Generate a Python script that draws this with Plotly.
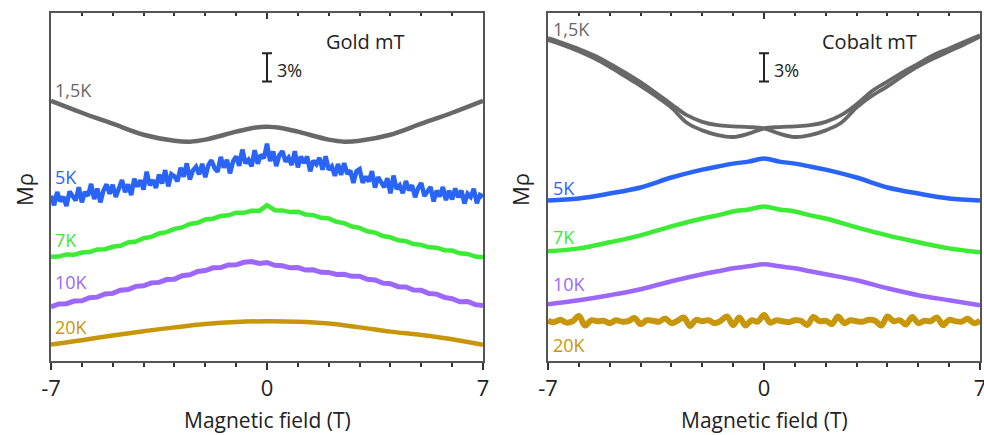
import plotly.graph_objects as go

# ---------------- data (resistance change in % units, offset per curve) ----------------
FIELD_FINE = [round(-7 + 0.1 * i, 2) for i in range(141)]
FIELD_Q = [round(-7 + 0.25 * i, 2) for i in range(57)]
FIELD_H = [round(-7 + 0.5 * i, 2) for i in range(29)]
FIELD_INT = [-7, -6, -5, -4, -3, -2, -1, 0, 1, 2, 3, 4, 5, 6, 7]
FIELD_GOLD_15 = [-7, -6, -5, -4, -3, -2.5, -2, -1, -0.5, 0, 0.5, 1, 2, 2.5, 3, 4, 5, 6, 7]
FIELD_CO = [-7, -6, -5, -4, -3, -2, -1.5, -1, -0.5, 0, 0.5, 1, 1.5, 2, 3, 4, 5, 6, 7]
FIELD_CO_20 = [round(-7 + 0.2 * i, 2) for i in range(71)]

gold_15K = [27.47, 26.21, 25.05, 23.89, 23.26, 23.16, 23.37, 24.21, 24.58, 24.74,
            24.58, 24.21, 23.37, 23.16, 23.26, 23.89, 25.05, 26.21, 27.47]

gold_5K = [17.45, 16.45, 17.85, 16.85, 17.35, 16.35, 17.9, 17.35, 16.95, 18.35,
           16.75, 17.85, 17.45, 18.7, 17.1, 18.2, 16.75, 18.0, 18.65, 17.65,
           18.6, 17.32, 18.14, 19.11, 17.83, 18.65, 17.52, 19.24, 18.41, 19.08,
           18.1, 19.98, 18.56, 19.09, 18.27, 19.7, 18.73, 20.16, 18.44, 19.72,
           19.5, 18.98, 20.41, 19.44, 20.87, 19.15, 20.13, 20.51, 19.69, 20.82,
           19.4, 20.67, 21.19, 20.36, 19.98, 21.55, 20.42, 21.24, 19.81, 21.08,
           21.6, 20.61, 22.32, 20.88, 21.24, 20.55, 22.26, 20.82, 21.78, 21.39,
           22.95, 21.11, 22.12, 20.58, 21.74, 22.15, 21.06, 21.47, 20.68, 22.14,
           20.45, 21.58, 20.91, 21.59, 20.02, 21.15, 20.78, 21.46, 20.19, 21.62,
           20.2, 20.55, 19.55, 20.8, 19.65, 20.9, 19.75, 20.1, 18.8, 20.05,
           20.25, 18.81, 19.47, 18.93, 20.04, 18.3, 19.41, 18.87, 18.33, 19.29,
           17.7, 19.58, 18.16, 18.54, 17.72, 19.0, 18.03, 18.56, 17.29, 18.27,
           18.8, 17.41, 17.82, 18.38, 16.84, 18.0, 17.36, 18.37, 16.98, 17.99,
           17.05, 18.22, 17.29, 18.01, 16.63, 17.65, 17.32, 18.19, 16.66, 17.53,
           17.35]

gold_7K = [11.0, 11.02, 11.25, 11.22, 11.45, 11.5, 11.78, 11.8, 12.06, 12.16,
           12.52, 12.62, 12.96, 13.1, 13.46, 13.6, 13.95, 14.1, 14.47, 14.6,
           14.95, 15.02, 15.32, 15.38, 15.66, 15.64, 15.86, 15.85, 16.45, 15.92,
           15.9, 15.72, 15.76, 15.47, 15.4, 15.12, 15.06, 14.7, 14.56, 14.2,
           14.06, 13.7, 13.56, 13.2, 13.06, 12.75, 12.66, 12.35, 12.26, 12.0,
           11.96, 11.7, 11.66, 11.37, 11.3, 11.03, 10.95]

gold_10K = [5.72, 6.02, 6.05, 6.33, 6.36, 6.68, 6.74, 7.08, 7.14, 7.47,
            7.55, 7.88, 7.94, 8.25, 8.3, 8.6, 8.64, 9.0, 9.1, 9.45,
            9.55, 9.84, 9.86, 10.14, 10.15, 10.42, 10.5, 10.3, 10.4, 10.1,
            10.05, 9.84, 9.86, 9.6, 9.62, 9.36, 9.35, 9.14, 9.16, 8.94,
            8.95, 8.63, 8.56, 8.22, 8.16, 7.85, 7.82, 7.5, 7.46, 7.12,
            7.06, 6.72, 6.58, 6.26, 6.28, 5.95, 5.85]

gold_20K = [1.75, 2.2, 2.7, 3.15, 3.55, 3.9, 4.12, 4.2, 4.15, 3.95, 3.55, 3.1, 2.75, 2.3, 1.7]

cobalt_15K_a = [33.9, 33.35, 32.7, 31.95, 31.05, 30.05, 29.05, 27.95, 26.75,
                25.15, 24.35, 23.85, 23.65, 24.0, 24.55,
                24.7, 24.78, 24.9, 25.25, 25.95, 27.1,
                28.5, 29.5, 30.5, 31.4, 32.3, 33.0, 33.7, 34.4]
cobalt_15K_b = [34.1, 33.55, 32.95, 32.25, 31.4, 30.45, 29.45, 28.3, 27.1,
                25.95, 25.25, 24.9, 24.78, 24.7, 24.55,
                24.0, 23.65, 23.85, 24.35, 25.15, 26.75,
                28.0, 29.0, 30.1, 31.1, 31.95, 32.7, 33.45, 34.25]
cobalt_5K = [16.95, 17.16, 17.68, 18.32, 19.37, 20.21, 20.53, 20.84, 21.05, 21.37,
             21.05, 20.84, 20.53, 20.21, 19.37, 18.32, 17.68, 17.16, 16.95]
cobalt_7K = [11.58, 11.89, 12.53, 13.26, 14.21, 15.05, 15.37, 15.79, 16.0, 16.32,
             16.0, 15.79, 15.37, 15.05, 14.11, 13.26, 12.53, 11.89, 11.47]
cobalt_10K = [6.0, 6.42, 6.95, 7.58, 8.42, 9.16, 9.47, 9.79, 10.0, 10.21,
              10.0, 9.79, 9.47, 9.16, 8.53, 7.68, 6.95, 6.42, 5.89]
cobalt_20K = [4.25, 4.1, 4.35, 4.05, 4.2, 4.75, 3.75, 4.3, 4.2, 4.25,
              4.0, 4.3, 4.15, 4.2, 4.55, 3.9, 4.3, 4.25, 4.15, 4.5,
              4.0, 4.25, 4.6, 3.7, 4.35, 4.2, 4.3, 4.0, 4.25, 4.7,
              3.8, 4.6, 3.75, 4.3, 4.15, 4.85, 4.05, 4.3, 4.2, 4.1,
              4.3, 4.25, 3.8, 4.65, 4.2, 4.25, 3.9, 4.7, 4.0, 4.3,
              4.2, 4.15, 4.35, 4.25, 3.75, 4.7, 4.2, 4.3, 3.85, 4.65,
              4.0, 4.25, 4.2, 4.6, 3.8, 4.35, 4.2, 4.15, 4.45, 4.0,
              4.25]

SCALE_PCT = 3.0
SCALE_CENTER = 31.0
TICK_VALS = [-7, 0, 7]
TICK_TEXT = ["-7", "0", "7"]
Y_RANGE = [0, 36.74]

# ---------------- styling ----------------
GRAY = "#686868"
BLUE = "#2A64F6"
GREEN = "#3BEB34"
PURPLE = "#9C67FB"
BROWN = "#C8960A"
INK = "#222222"
FONT = "Open Sans"

fig = go.Figure()


def line(x, y, color, ax, width=4.5, shape="linear", smoothing=1.0):
    xa, ya = ("x", "y") if ax == 1 else ("x2", "y2")
    ln = dict(color=color, width=width, shape=shape)
    if shape == "spline":
        ln["smoothing"] = smoothing
    fig.add_trace(go.Scatter(x=x, y=y, mode="lines", xaxis=xa, yaxis=ya, line=ln,
                             showlegend=False, hoverinfo="skip"))


# left panel (gold)
line(FIELD_GOLD_15, gold_15K, GRAY, 1, 4.5, "spline")
line(FIELD_FINE, gold_5K, BLUE, 1, 4.5)
line(FIELD_Q, gold_7K, GREEN, 1, 4.5)
line(FIELD_Q, gold_10K, PURPLE, 1, 5)
line(FIELD_INT, gold_20K, BROWN, 1, 4.5, "spline")

# right panel (cobalt)
line(FIELD_H, cobalt_15K_a, GRAY, 2, 3.8, "spline")
line(FIELD_H, cobalt_15K_b, GRAY, 2, 3.8, "spline")
line(FIELD_CO, cobalt_5K, BLUE, 2, 4.5, "spline")
line(FIELD_CO, cobalt_7K, GREEN, 2, 4.5, "spline")
line(FIELD_CO, cobalt_10K, PURPLE, 2, 4.5, "spline")
line(FIELD_CO_20, cobalt_20K, BROWN, 2, 6, "spline")

# 3% scale bars
for xa, ya in (("x", "y"), ("x2", "y2")):
    fig.add_trace(go.Scatter(x=[0], y=[SCALE_CENTER], mode="markers", xaxis=xa, yaxis=ya,
                             marker=dict(size=1, color="rgba(0,0,0,0)"),
                             error_y=dict(type="constant", value=SCALE_PCT / 2, width=5,
                                          thickness=2, color=INK),
                             showlegend=False, hoverinfo="skip"))

# dummy traces for the top (inward) tick axes
for xa, ya in (("x3", "y"), ("x4", "y2")):
    fig.add_trace(go.Scatter(x=[0], y=[None], xaxis=xa, yaxis=ya, mode="lines",
                             showlegend=False, hoverinfo="skip"))

W, H = 984, 435
XD1 = [51 / W, 483 / W]
XD2 = [548 / W, 980 / W]
YD = [(H - 361) / H, (H - 13) / H]

xbase = dict(range=[-7, 7], tickmode="array", tickvals=TICK_VALS, ticktext=TICK_TEXT,
             ticks="outside", ticklen=7, tickwidth=1.5, tickcolor="#333",
             minor=dict(tickmode="linear", tick0=0, dtick=1, ticks="outside",
                        ticklen=4, tickwidth=1.5, tickcolor="#333"),
             showline=True, linecolor="#555", linewidth=1.5, mirror=True,
             showgrid=False, zeroline=False, automargin=False,
             ticklabeloverflow="allow",
             tickfont=dict(family=FONT, size=22, color=INK))
xtop = dict(range=[-7, 7], tickmode="array", tickvals=TICK_VALS, side="top",
            ticks="inside", ticklen=6, tickwidth=1.5, tickcolor="#333",
            minor=dict(tickmode="linear", tick0=0, dtick=1, ticks="inside",
                       ticklen=3, tickwidth=1.5, tickcolor="#333"),
            showticklabels=False, showline=False, showgrid=False, zeroline=False,
            automargin=False)
ybase = dict(range=Y_RANGE, domain=YD, showticklabels=False, ticks="",
             showline=True, linecolor="#555", linewidth=1.5, mirror=True,
             showgrid=False, zeroline=False, automargin=False)

fig.update_layout(
    width=W, height=H, margin=dict(l=0, r=0, t=0, b=0, autoexpand=False),
    paper_bgcolor="white", plot_bgcolor="white",
    font=dict(family=FONT, color=INK),
    xaxis=dict(domain=XD1, anchor="y", **xbase),
    xaxis2=dict(domain=XD2, anchor="y2", **xbase),
    xaxis3=dict(overlaying="x", anchor="y", **xtop),
    xaxis4=dict(overlaying="x2", anchor="y2", **xtop),
    yaxis=dict(anchor="x", **ybase),
    yaxis2=dict(anchor="x2", **ybase),
)


def ann(text, px, py, size, color=INK, xanchor="left", angle=0):
    fig.add_annotation(text=text, x=px / W, y=1 - py / H, xref="paper", yref="paper",
                       xanchor=xanchor, yanchor="middle", showarrow=False, textangle=angle,
                       font=dict(family=FONT, size=size, color=color))


# axis titles
ann("Mρ", 24, 190, 22, xanchor="center", angle=-90)
ann("Mρ", 520, 190, 22, xanchor="center", angle=-90)
ann("Magnetic field (T)", 267, 420, 21, xanchor="center")
ann("Magnetic field (T)", 764, 420, 21, xanchor="center")

# panel titles and scale text
ann("Gold mT", 365, 41, 20, xanchor="center")
ann("Cobalt mT", 869, 41, 20, xanchor="center")
ann("3%", 275, 70, 18)
ann("3%", 772, 70, 18)

# curve labels
ann("1,5K", 53, 90, 18, GRAY)
ann("5K", 53, 177, 18, BLUE)
ann("7K", 53, 240, 18, GREEN)
ann("10K", 53, 282, 18, PURPLE)
ann("20K", 53, 327, 18, BROWN)

ann("1,5K", 551, 29, 18, GRAY)
ann("5K", 551, 188, 18, BLUE)
ann("7K", 551, 237, 18, GREEN)
ann("10K", 551, 284, 18, PURPLE)
ann("20K", 551, 345, 18, BROWN)

fig.write_html("out.html", config={"displayModeBar": False},
               post_script="document.body.style.margin='0';")
